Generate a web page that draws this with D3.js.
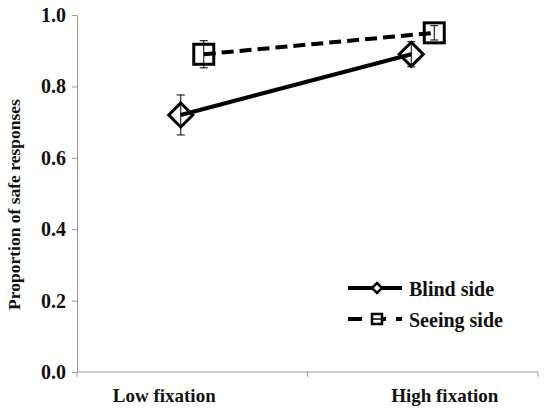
<!DOCTYPE html>
<html>
<head>
<meta charset="utf-8">
<script src="https://cdn.jsdelivr.net/npm/d3@7"></script>
<style>
  html, body { margin: 0; padding: 0; background: #fff; }
  svg { display: block; font-family: "Liberation Serif", "DejaVu Serif", serif; font-weight: bold; }
</style>
</head>
<body>
<div id="chart"></div>
<script>
/* fixation chart: proportion of safe responses, blind vs seeing side */
const categories = ["Low fixation", "High fixation"];
const seriesNames = ["Blind side", "Seeing side"];
const blindValues = [0.72, 0.89];
const blindErrors = [0.056, 0.035];
const seeingValues = [0.89, 0.95];
const seeingErrors = [0.038, 0.02];
const yTicks = [0, 0.2, 0.4, 0.6, 0.8, 1.0];

const W = 550, Ht = 412;
const m = { t: 15, r: 12, b: 40, l: 77 };
const axisColor = "#9a9a9a";

const svg = d3.select("#chart").append("svg").attr("width", W).attr("height", Ht);

const x = d3.scaleBand().domain(categories).range([m.l, W - m.r]);
const dodge = d3.scalePoint().domain(seriesNames).range([-11.5, 11.5]);
const y = d3.scaleLinear().domain([0, 1]).range([Ht - m.b, m.t]);

// y axis
const gy = svg.append("g").attr("transform", `translate(${m.l},0)`)
  .call(d3.axisLeft(y).tickValues(yTicks).tickFormat(d3.format(".1f")).tickSize(5).tickSizeOuter(0).tickPadding(6));
gy.select(".domain").attr("stroke", axisColor);
gy.selectAll(".tick line").attr("stroke", axisColor);
gy.selectAll("text").style("font-size", "20px").attr("fill", "#111")
  .style("font-family", "Liberation Serif, serif").style("font-weight", "bold");

// x axis: line plus ticks at band edges
const gx = svg.append("g").attr("transform", `translate(0,${Ht - m.b})`);
gx.append("line").attr("x1", x.range()[0]).attr("x2", x.range()[1]).attr("stroke", axisColor);
const edges = categories.map(c => x(c)).concat([x.range()[1]]);
gx.selectAll("line.edge").data(edges).join("line").attr("class", "edge")
  .attr("x1", d => d).attr("x2", d => d).attr("y1", 0).attr("y2", 5).attr("stroke", axisColor);
const labelShift = [-28, 22];
gx.selectAll("text").data(categories).join("text")
  .attr("x", (d, i) => x(d) + x.bandwidth() / 2 + labelShift[i])
  .attr("y", 30).attr("text-anchor", "middle")
  .style("font-size", "19px").attr("fill", "#111").text(d => d);

// y title
svg.append("text")
  .attr("transform", `translate(20,${(y(0) + y(1)) / 2 + 11}) rotate(-90)`)
  .attr("text-anchor", "middle").style("font-size", "17.5px").attr("fill", "#111")
  .text("Proportion of safe responses");

const series = [
  { name: "Blind side", values: blindValues, errors: blindErrors, dash: null, shape: "diamond" },
  { name: "Seeing side", values: seeingValues, errors: seeingErrors, dash: "12,6", shape: "square" }
];

function marker(g, shape, cx, cy, s) {
  if (shape === "diamond") {
    g.append("path")
      .attr("d", `M${cx},${cy - s}L${cx + s},${cy}L${cx},${cy + s}L${cx - s},${cy}Z`)
      .attr("fill", "none").attr("stroke", "#000").attr("stroke-width", 3);
  } else {
    g.append("rect").attr("x", cx - s).attr("y", cy - s).attr("width", 2 * s).attr("height", 2 * s)
      .attr("fill", "none").attr("stroke", "#000").attr("stroke-width", 3);
  }
}

const plot = svg.append("g");
series.forEach(s => {
  const pts = categories.map((c, i) => ({
    x: x(c) + x.bandwidth() / 2 + dodge(s.name), v: s.values[i], e: s.errors[i]
  }));
  const g = plot.append("g");
  // error bars
  pts.forEach(p => {
    g.append("line").attr("x1", p.x).attr("x2", p.x).attr("y1", y(p.v - p.e)).attr("y2", y(p.v + p.e))
      .attr("stroke", "#000").attr("stroke-width", 1);
    [p.v - p.e, p.v + p.e].forEach(v => g.append("line")
      .attr("x1", p.x - 4).attr("x2", p.x + 4).attr("y1", y(v)).attr("y2", y(v))
      .attr("stroke", "#000").attr("stroke-width", 1));
  });
  g.append("path").datum(pts)
    .attr("d", d3.line().x(p => p.x).y(p => y(p.v)))
    .attr("fill", "none").attr("stroke", "#000").attr("stroke-width", 4)
    .attr("stroke-dasharray", s.dash);
  pts.forEach(p => marker(g, s.shape, p.x, y(p.v), s.shape === "diamond" ? 12 : 10));
});

// legend
const lg = svg.append("g").attr("transform", "translate(348,288)");
series.forEach((s, i) => {
  const row = lg.append("g").attr("transform", `translate(0,${i * 31})`);
  row.append("line").attr("x1", 0).attr("x2", 54).attr("stroke", "#000").attr("stroke-width", 4)
    .attr("stroke-dasharray", s.dash ? "14,10" : null);
  if (s.shape === "diamond") {
    row.append("path").attr("d", "M29,-5L34,0L29,5L24,0Z").attr("fill", "#fff").attr("stroke", "#000").attr("stroke-width", 2.5);
  } else {
    row.append("rect").attr("x", 24).attr("y", -5).attr("width", 10).attr("height", 10)
      .attr("fill", "#fff").attr("stroke", "#000").attr("stroke-width", 2.5);
    row.append("line").attr("x1", 24).attr("x2", 34).attr("stroke", "#000").attr("stroke-width", 1.5);
  }
  row.append("text").attr("x", 61).attr("y", 8).style("font-size", "20px").attr("fill", "#111").text(s.name);
});
</script>
</body>
</html>
